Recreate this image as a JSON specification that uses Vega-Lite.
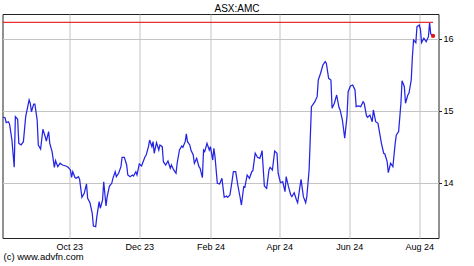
{
  "$schema": "https://vega.github.io/schema/vega-lite/v6.json",
  "width": 436,
  "height": 224,
  "autosize": "none",
  "padding": {"left": 2.5, "top": 14, "right": 35.5, "bottom": 28},
  "background": "white",
  "config": {"view": {"stroke": "#222222", "strokeWidth": 1}, "font": "Liberation Sans"},
  "title": {"text": "ASX:AMC", "fontSize": 10, "fontWeight": "normal", "font": "Liberation Sans", "color": "#000000", "baseline": "alphabetic", "offset": 2.5, "dx": 16.5, "dy": 10.5},
  "data": {"values": [
    {"date": "2023-08-04", "v": 14.913}, {"date": "2023-08-06", "v": 14.907}, {"date": "2023-08-07", "v": 14.838}, {"date": "2023-08-09", "v": 14.851},
    {"date": "2023-08-10", "v": 14.815}, {"date": "2023-08-12", "v": 14.597}, {"date": "2023-08-14", "v": 14.218}, {"date": "2023-08-15", "v": 14.921},
    {"date": "2023-08-17", "v": 14.885}, {"date": "2023-08-18", "v": 14.551}, {"date": "2023-08-20", "v": 14.528}, {"date": "2023-08-22", "v": 14.574},
    {"date": "2023-08-24", "v": 14.921}, {"date": "2023-08-27", "v": 15.153}, {"date": "2023-08-28", "v": 15.107}, {"date": "2023-08-29", "v": 14.990},
    {"date": "2023-08-31", "v": 15.097}, {"date": "2023-09-01", "v": 15.097}, {"date": "2023-09-03", "v": 14.875}, {"date": "2023-09-04", "v": 14.528},
    {"date": "2023-09-06", "v": 14.472}, {"date": "2023-09-08", "v": 14.746}, {"date": "2023-09-10", "v": 14.643}, {"date": "2023-09-11", "v": 14.583},
    {"date": "2023-09-13", "v": 14.713}, {"date": "2023-09-14", "v": 14.551}, {"date": "2023-09-16", "v": 14.435}, {"date": "2023-09-18", "v": 14.218},
    {"date": "2023-09-19", "v": 14.310}, {"date": "2023-09-21", "v": 14.226}, {"date": "2023-09-23", "v": 14.274}, {"date": "2023-09-25", "v": 14.250},
    {"date": "2023-09-28", "v": 14.236}, {"date": "2023-09-30", "v": 14.218}, {"date": "2023-10-02", "v": 14.181}, {"date": "2023-10-03", "v": 14.079},
    {"date": "2023-10-04", "v": 14.157}, {"date": "2023-10-06", "v": 14.076}, {"date": "2023-10-07", "v": 14.065}, {"date": "2023-10-09", "v": 14.088},
    {"date": "2023-10-10", "v": 14.051}, {"date": "2023-10-12", "v": 13.801}, {"date": "2023-10-14", "v": 13.857}, {"date": "2023-10-16", "v": 13.986},
    {"date": "2023-10-17", "v": 13.788}, {"date": "2023-10-19", "v": 13.726}, {"date": "2023-10-21", "v": 13.579}, {"date": "2023-10-22", "v": 13.403},
    {"date": "2023-10-24", "v": 13.393}, {"date": "2023-10-25", "v": 13.532}, {"date": "2023-10-27", "v": 13.740}, {"date": "2023-10-28", "v": 13.649},
    {"date": "2023-10-30", "v": 13.764}, {"date": "2023-10-31", "v": 14.018}, {"date": "2023-11-02", "v": 13.681}, {"date": "2023-11-03", "v": 13.810},
    {"date": "2023-11-05", "v": 13.958}, {"date": "2023-11-07", "v": 13.996}, {"date": "2023-11-08", "v": 14.065}, {"date": "2023-11-10", "v": 14.157},
    {"date": "2023-11-11", "v": 14.088}, {"date": "2023-11-13", "v": 14.135}, {"date": "2023-11-15", "v": 14.226}, {"date": "2023-11-16", "v": 14.357},
    {"date": "2023-11-18", "v": 14.357}, {"date": "2023-11-20", "v": 14.250}, {"date": "2023-11-21", "v": 14.111}, {"date": "2023-11-23", "v": 14.088},
    {"date": "2023-11-25", "v": 14.111}, {"date": "2023-11-26", "v": 14.097}, {"date": "2023-11-28", "v": 14.157}, {"date": "2023-11-29", "v": 14.111},
    {"date": "2023-12-01", "v": 14.264}, {"date": "2023-12-03", "v": 14.236}, {"date": "2023-12-04", "v": 14.282}, {"date": "2023-12-06", "v": 14.365},
    {"date": "2023-12-07", "v": 14.389}, {"date": "2023-12-09", "v": 14.504}, {"date": "2023-12-10", "v": 14.597}, {"date": "2023-12-12", "v": 14.504},
    {"date": "2023-12-13", "v": 14.574}, {"date": "2023-12-14", "v": 14.413}, {"date": "2023-12-16", "v": 14.560}, {"date": "2023-12-18", "v": 14.458},
    {"date": "2023-12-19", "v": 14.528}, {"date": "2023-12-21", "v": 14.504}, {"date": "2023-12-22", "v": 14.296}, {"date": "2023-12-24", "v": 14.250},
    {"date": "2023-12-26", "v": 14.306}, {"date": "2023-12-28", "v": 14.204}, {"date": "2023-12-29", "v": 14.250}, {"date": "2023-12-31", "v": 14.181},
    {"date": "2024-01-02", "v": 14.135}, {"date": "2024-01-03", "v": 14.274}, {"date": "2024-01-05", "v": 14.458}, {"date": "2024-01-07", "v": 14.514},
    {"date": "2024-01-08", "v": 14.496}, {"date": "2024-01-10", "v": 14.574}, {"date": "2024-01-11", "v": 14.681}, {"date": "2024-01-12", "v": 14.574},
    {"date": "2024-01-14", "v": 14.528}, {"date": "2024-01-15", "v": 14.458}, {"date": "2024-01-17", "v": 14.389}, {"date": "2024-01-18", "v": 14.274},
    {"date": "2024-01-20", "v": 14.343}, {"date": "2024-01-22", "v": 14.226}, {"date": "2024-01-23", "v": 14.204}, {"date": "2024-01-25", "v": 14.074},
    {"date": "2024-01-26", "v": 14.458}, {"date": "2024-01-27", "v": 14.435}, {"date": "2024-01-29", "v": 14.551}, {"date": "2024-01-31", "v": 14.458},
    {"date": "2024-02-01", "v": 14.504}, {"date": "2024-02-03", "v": 14.319}, {"date": "2024-02-04", "v": 14.482}, {"date": "2024-02-05", "v": 14.365},
    {"date": "2024-02-07", "v": 13.996}, {"date": "2024-02-09", "v": 13.986}, {"date": "2024-02-11", "v": 14.065}, {"date": "2024-02-13", "v": 13.801},
    {"date": "2024-02-15", "v": 13.819}, {"date": "2024-02-16", "v": 13.801}, {"date": "2024-02-18", "v": 13.833}, {"date": "2024-02-20", "v": 14.042},
    {"date": "2024-02-21", "v": 14.157}, {"date": "2024-02-23", "v": 14.157}, {"date": "2024-02-25", "v": 13.958}, {"date": "2024-02-27", "v": 13.788},
    {"date": "2024-02-28", "v": 13.694}, {"date": "2024-03-01", "v": 13.949}, {"date": "2024-03-02", "v": 13.940}, {"date": "2024-03-04", "v": 14.111},
    {"date": "2024-03-06", "v": 14.065}, {"date": "2024-03-08", "v": 14.157}, {"date": "2024-03-09", "v": 14.171}, {"date": "2024-03-11", "v": 14.413},
    {"date": "2024-03-13", "v": 14.357}, {"date": "2024-03-15", "v": 14.343}, {"date": "2024-03-16", "v": 14.389}, {"date": "2024-03-17", "v": 14.449},
    {"date": "2024-03-19", "v": 13.958}, {"date": "2024-03-21", "v": 13.926}, {"date": "2024-03-23", "v": 14.181}, {"date": "2024-03-24", "v": 14.218},
    {"date": "2024-03-26", "v": 14.181}, {"date": "2024-03-28", "v": 14.444}, {"date": "2024-03-30", "v": 14.413}, {"date": "2024-03-31", "v": 14.135},
    {"date": "2024-04-02", "v": 14.004}, {"date": "2024-04-04", "v": 14.018}, {"date": "2024-04-06", "v": 13.879}, {"date": "2024-04-07", "v": 14.088},
    {"date": "2024-04-09", "v": 13.949}, {"date": "2024-04-11", "v": 13.833}, {"date": "2024-04-12", "v": 13.810}, {"date": "2024-04-14", "v": 13.865},
    {"date": "2024-04-16", "v": 13.764}, {"date": "2024-04-17", "v": 13.726}, {"date": "2024-04-19", "v": 13.949}, {"date": "2024-04-20", "v": 14.051},
    {"date": "2024-04-22", "v": 13.810}, {"date": "2024-04-24", "v": 13.726}, {"date": "2024-04-25", "v": 13.810}, {"date": "2024-04-27", "v": 14.181},
    {"date": "2024-04-29", "v": 15.060}, {"date": "2024-05-01", "v": 15.107}, {"date": "2024-05-02", "v": 15.129}, {"date": "2024-05-04", "v": 15.199},
    {"date": "2024-05-05", "v": 15.431}, {"date": "2024-05-07", "v": 15.524}, {"date": "2024-05-09", "v": 15.639}, {"date": "2024-05-11", "v": 15.685},
    {"date": "2024-05-12", "v": 15.663}, {"date": "2024-05-14", "v": 15.454}, {"date": "2024-05-16", "v": 15.431}, {"date": "2024-05-17", "v": 15.038},
    {"date": "2024-05-19", "v": 15.107}, {"date": "2024-05-21", "v": 15.222}, {"date": "2024-05-23", "v": 15.051}, {"date": "2024-05-24", "v": 15.014},
    {"date": "2024-05-26", "v": 14.875}, {"date": "2024-05-28", "v": 14.621}, {"date": "2024-05-30", "v": 14.921}, {"date": "2024-05-31", "v": 15.268},
    {"date": "2024-06-02", "v": 15.347}, {"date": "2024-06-04", "v": 15.361}, {"date": "2024-06-06", "v": 15.292}, {"date": "2024-06-07", "v": 15.060},
    {"date": "2024-06-09", "v": 15.069}, {"date": "2024-06-11", "v": 15.060}, {"date": "2024-06-13", "v": 15.129}, {"date": "2024-06-14", "v": 15.107},
    {"date": "2024-06-16", "v": 14.931}, {"date": "2024-06-17", "v": 14.913}, {"date": "2024-06-19", "v": 14.944}, {"date": "2024-06-21", "v": 14.851},
    {"date": "2024-06-22", "v": 15.014}, {"date": "2024-06-24", "v": 14.851}, {"date": "2024-06-26", "v": 14.829}, {"date": "2024-06-28", "v": 14.643},
    {"date": "2024-06-29", "v": 14.551}, {"date": "2024-07-01", "v": 14.413}, {"date": "2024-07-02", "v": 14.403}, {"date": "2024-07-04", "v": 14.296},
    {"date": "2024-07-05", "v": 14.143}, {"date": "2024-07-07", "v": 14.274}, {"date": "2024-07-09", "v": 14.226}, {"date": "2024-07-11", "v": 14.551},
    {"date": "2024-07-12", "v": 14.667}, {"date": "2024-07-14", "v": 14.713}, {"date": "2024-07-16", "v": 15.107}, {"date": "2024-07-17", "v": 15.421},
    {"date": "2024-07-19", "v": 15.338}, {"date": "2024-07-20", "v": 15.107}, {"date": "2024-07-22", "v": 15.222}, {"date": "2024-07-23", "v": 15.246},
    {"date": "2024-07-25", "v": 15.431}, {"date": "2024-07-26", "v": 15.754}, {"date": "2024-07-27", "v": 15.986}, {"date": "2024-07-29", "v": 15.949},
    {"date": "2024-07-30", "v": 16.171}, {"date": "2024-08-01", "v": 16.194}, {"date": "2024-08-02", "v": 16.135}, {"date": "2024-08-03", "v": 15.949},
    {"date": "2024-08-05", "v": 16.010}, {"date": "2024-08-07", "v": 15.963}, {"date": "2024-08-09", "v": 16.032}, {"date": "2024-08-10", "v": 16.230},
    {"date": "2024-08-11", "v": 16.069}, {"date": "2024-08-13", "v": 16.042}
  ]},
  "encoding": {
    "x": {
      "field": "date", "type": "temporal",
      "scale": {"type": "utc", "domain": [{"year": 2023, "month": 8, "date": 3, "hours": 19, "utc": true}, {"year": 2024, "month": 8, "date": 17, "hours": 18, "utc": true}]},
      "axis": {
        "orient": "bottom",
        "values": [
          {"year": 2023, "month": 10, "date": 1, "utc": true},
          {"year": 2023, "month": 12, "date": 1, "utc": true},
          {"year": 2024, "month": 2, "date": 1, "utc": true},
          {"year": 2024, "month": 4, "date": 1, "utc": true},
          {"year": 2024, "month": 6, "date": 1, "utc": true},
          {"year": 2024, "month": 8, "date": 1, "utc": true}
        ],
        "labelExpr": "utcFormat(datum.value, '%b %y')",
        "grid": true, "gridColor": "#c4c4c4", "gridWidth": 1,
        "ticks": false, "domain": false,
        "labelPadding": 4, "labelFontSize": 9, "labelColor": "#000000", "labelFont": "Liberation Sans",
        "title": "(c) www.advfn.com",
        "titleX": 0.5, "titleY": 18, "titleAlign": "left", "titleBaseline": "middle",
        "titleFontSize": 9.5, "titleFontWeight": "normal", "titleColor": "#000000", "titleFont": "Liberation Sans"
      }
    },
    "y": {
      "field": "v", "type": "quantitative",
      "scale": {"domain": [13.236, 16.347], "nice": false, "zero": false},
      "axis": {
        "orient": "right", "values": [14, 15, 16],
        "grid": true, "gridColor": "#c4c4c4", "gridWidth": 1,
        "domain": false, "tickSize": 3, "tickColor": "#222222",
        "labelPadding": 1.5, "labelFontSize": 9, "labelColor": "#000000", "labelFont": "Liberation Sans",
        "title": null
      }
    }
  },
  "layer": [
    {
      "mark": {"type": "line", "color": "#2424e6", "strokeWidth": 1.25}
    },
    {
      "mark": {"type": "rule", "color": "#e83030", "strokeWidth": 1.2},
      "encoding": {
        "x": {"aggregate": "min", "field": "date", "type": "temporal"},
        "x2": {"aggregate": "max", "field": "date"},
        "y": {"aggregate": "max", "field": "v", "type": "quantitative"}
      }
    },
    {
      "mark": {"type": "point", "filled": true, "color": "#e01818", "size": 18, "opacity": 1},
      "encoding": {
        "x": {"aggregate": "max", "field": "date", "type": "temporal"},
        "y": {"field": "v", "aggregate": {"argmax": "date"}, "type": "quantitative"}
      }
    }
  ]
}
